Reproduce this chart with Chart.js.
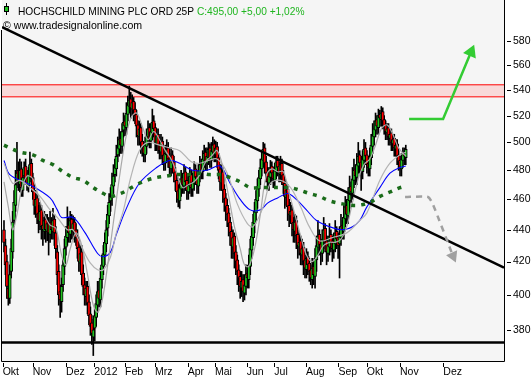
<!DOCTYPE html>
<html>
<head>
<meta charset="utf-8">
<script src="https://cdn.jsdelivr.net/npm/chart.js"></script>
<style>
  html, body { margin: 0; padding: 0; background: #fff; }
  #chart { display: block; }
</style>
</head>
<body>
<canvas id="chart" width="531" height="380"></canvas>
<script>
const title = 'HOCHSCHILD MINING PLC ORD 25P'
const source = '\u00a9 www.tradesignalonline.com'

// x axis runs on a trading-day index, month labels sit on the first day of each month
const monthLabels = ['Okt', 'Nov', 'Dez', '2012', 'Feb', 'Mrz', 'Apr', 'Mai', 'Jun', 'Jul', 'Aug', 'Sep', 'Okt', 'Nov', 'Dez']
const monthDays = [-0.9, 19.9, 43.1, 62.7, 84, 104.9, 127.6, 146.5, 168.5, 187.7, 209.7, 232.2, 251.9, 275, 305.1]
const dayMin = -1.39
const dayMax = 347.2
const priceTicks = [380, 400, 420, 440, 460, 480, 500, 520, 540, 560, 580]
const priceMin = 363.1
const priceMax = 615.9

// daily candles, Oct 2011 - early Nov 2012
const opens = [
  440, 430, 420, 404, 398, 414, 426, 446, 456, 472,
  480, 470, 481, 466, 476, 483, 475, 469, 476, 485,
  475, 466, 455, 461, 451, 445, 453, 443, 439, 447,
  439, 445, 437, 445, 439, 447, 438, 426, 414, 402,
  396, 406, 417, 429, 435, 443, 437, 447, 439, 445,
  440, 436, 429, 419, 426, 413, 406, 399, 405, 396,
  389, 384, 376, 381, 387, 394, 403, 397, 409, 417,
  424, 431, 441, 449, 459, 461, 469, 477, 481, 491,
  495, 503, 497, 509, 516, 511, 521, 527, 533, 525,
  531, 525, 521, 513, 504, 511, 501, 497, 491, 497,
  504, 511, 501, 507, 516, 511, 499, 506, 499, 493,
  501, 491, 485, 491, 496, 489, 481, 491, 486, 479,
  473, 466, 459, 467, 475, 469, 479, 473, 465, 469,
  477, 467, 471, 481, 476, 469, 477, 485, 479, 487,
  493, 485, 489, 496, 487, 493, 499, 491, 497, 489,
  481, 471, 479, 467, 461, 456, 451, 445, 439, 429,
  436, 426, 421, 415, 411, 404, 409, 401, 405, 413,
  409, 417, 427, 435, 444, 451, 459, 467, 474, 481,
  487, 496, 486, 479, 471, 475, 483, 479, 473, 479,
  487, 483, 477, 485, 477, 471, 461, 467, 456, 449,
  453, 445, 439, 446, 437, 429, 433, 424, 429, 421,
  415, 423, 419, 415, 409, 417, 411, 421, 429, 437,
  431, 425, 433, 441, 433, 425, 429, 437, 433, 427,
  431, 439, 435, 431, 435, 443, 439, 447, 456, 449,
  459, 469, 464, 473, 481, 475, 483, 491, 486, 479,
  487, 496, 491, 485, 481, 489, 497, 504, 509, 517,
  511, 521, 517, 523, 517, 513, 507, 511, 503, 507,
  499, 503, 495, 499, 491, 487, 481, 487, 493, 489
]
const highs = [
  446, 434, 424, 410, 418, 434, 452, 466, 480, 500,
  486, 488, 486, 480, 486, 488, 480, 482, 493, 488,
  478, 470, 466, 464, 456, 458, 456, 448, 452, 450,
  450, 448, 452, 448, 454, 450, 442, 430, 418, 406,
  410, 422, 434, 442, 455, 448, 452, 450, 449, 448,
  444, 440, 434, 430, 430, 418, 410, 408, 408, 400,
  393, 388, 386, 392, 400, 408, 408, 416, 424, 430,
  438, 446, 456, 464, 468, 478, 484, 488, 498, 504,
  510, 508, 514, 522, 520, 530, 535, 543, 538, 536,
  534, 530, 524, 516, 516, 514, 506, 500, 504, 510,
  516, 514, 514, 525, 520, 514, 510, 510, 504, 506,
  504, 496, 498, 502, 500, 492, 496, 494, 490, 482,
  476, 470, 474, 480, 478, 484, 482, 476, 476, 482,
  480, 478, 486, 484, 480, 484, 490, 488, 494, 498,
  496, 496, 500, 499, 500, 504, 502, 501, 500, 492,
  484, 484, 482, 470, 464, 460, 454, 448, 442, 440,
  438, 430, 424, 418, 414, 414, 412, 412, 418, 416,
  424, 434, 442, 450, 458, 466, 474, 480, 488, 494,
  500, 499, 490, 482, 482, 487, 486, 482, 485, 490,
  490, 486, 490, 488, 480, 474, 472, 470, 460, 458,
  456, 448, 450, 449, 440, 438, 436, 434, 432, 424,
  428, 426, 422, 418, 422, 420, 428, 436, 446, 440,
  434, 440, 448, 444, 436, 436, 444, 440, 436, 438,
  446, 442, 438, 442, 450, 446, 456, 462, 460, 468,
  476, 472, 482, 488, 484, 492, 500, 494, 490, 494,
  502, 500, 494, 488, 496, 506, 514, 516, 522, 520,
  525, 524, 527, 526, 520, 516, 514, 514, 510, 510,
  506, 506, 502, 502, 494, 490, 492, 496, 496, 498
]
const lows = [
  426, 412, 398, 394, 395, 410, 422, 442, 452, 468,
  466, 465, 462, 462, 472, 470, 466, 465, 472, 470,
  460, 450, 448, 444, 438, 440, 434, 430, 434, 432,
  433, 424, 432, 434, 434, 430, 422, 406, 394, 387,
  390, 402, 412, 424, 430, 432, 432, 434, 434, 432,
  430, 422, 414, 414, 406, 400, 394, 394, 389, 383,
  377, 372, 366, 374, 382, 390, 393, 393, 404, 412,
  418, 426, 436, 444, 452, 456, 464, 472, 476, 486,
  490, 492, 492, 504, 505, 506, 516, 522, 518, 520,
  516, 514, 504, 498, 498, 492, 490, 486, 486, 492,
  498, 496, 496, 502, 504, 494, 494, 492, 488, 488,
  484, 480, 480, 486, 482, 476, 476, 478, 472, 466,
  458, 455, 454, 462, 464, 464, 466, 460, 460, 464,
  462, 462, 466, 470, 464, 464, 472, 474, 474, 482,
  480, 480, 484, 482, 482, 488, 486, 486, 482, 474,
  466, 466, 458, 452, 446, 442, 436, 430, 422, 422,
  416, 412, 406, 402, 398, 399, 396, 397, 400, 404,
  404, 412, 422, 430, 438, 446, 454, 462, 470, 476,
  482, 478, 472, 466, 466, 470, 472, 468, 468, 474,
  476, 472, 472, 470, 464, 454, 456, 446, 442, 444,
  436, 432, 432, 428, 422, 424, 418, 418, 412, 410,
  410, 412, 408, 406, 404, 406, 404, 414, 424, 424,
  418, 420, 428, 426, 418, 420, 424, 426, 420, 422,
  426, 428, 422, 410, 430, 434, 434, 442, 444, 444,
  454, 458, 460, 468, 470, 470, 478, 478, 466, 474,
  482, 484, 478, 476, 476, 484, 492, 498, 504, 506,
  506, 512, 512, 510, 506, 502, 502, 498, 498, 494,
  494, 490, 490, 484, 480, 476, 476, 482, 484, 484
]
const closes = [
  432, 418, 405, 398, 412, 428, 445, 458, 470, 478,
  472, 480, 468, 475, 482, 474, 470, 478, 484, 474,
  465, 456, 460, 450, 446, 452, 442, 440, 446, 440,
  444, 438, 444, 440, 446, 438, 428, 412, 400, 397,
  405, 418, 428, 436, 442, 438, 446, 440, 444, 438,
  435, 428, 420, 425, 412, 405, 400, 404, 395, 388,
  382, 378, 380, 388, 395, 402, 398, 410, 418, 425,
  432, 440, 450, 458, 462, 470, 476, 482, 490, 496,
  502, 498, 508, 515, 512, 522, 528, 532, 526, 530,
  524, 520, 512, 505, 510, 500, 496, 492, 498, 505,
  510, 502, 508, 515, 510, 500, 505, 498, 494, 500,
  490, 486, 492, 495, 488, 482, 490, 485, 478, 472,
  465, 460, 468, 474, 470, 478, 472, 466, 470, 476,
  468, 472, 480, 475, 470, 478, 484, 480, 488, 492,
  486, 490, 495, 488, 494, 498, 492, 496, 488, 480,
  472, 478, 466, 460, 455, 450, 444, 438, 430, 435,
  425, 420, 414, 410, 405, 408, 402, 406, 412, 410,
  418, 428, 436, 445, 452, 460, 468, 475, 482, 488,
  495, 485, 478, 472, 476, 482, 478, 474, 480, 486,
  482, 478, 484, 476, 470, 462, 466, 455, 450, 452,
  444, 440, 445, 436, 430, 432, 425, 428, 420, 416,
  422, 418, 414, 410, 416, 412, 422, 430, 436, 430,
  426, 434, 440, 432, 426, 430, 436, 432, 428, 432,
  438, 434, 430, 436, 442, 440, 448, 455, 450, 460,
  468, 465, 474, 480, 476, 484, 490, 485, 480, 488,
  495, 490, 484, 482, 490, 498, 505, 510, 516, 512,
  520, 518, 522, 516, 512, 508, 510, 504, 506, 500,
  502, 496, 498, 490, 486, 482, 488, 492, 490, 495
]

// moving averages: day index + value
const fastDays = [0, 3, 6, 9, 12, 16, 20, 24, 28, 32, 36, 40, 43, 46, 50, 54, 58, 62, 65, 68, 72, 76, 80, 84, 88, 92, 96, 100, 104, 108, 112, 116, 120, 124, 128, 132, 136, 140, 144, 148, 152, 156, 160, 164, 167, 170, 174, 178, 182, 186, 190, 194, 198, 202, 206, 210, 214, 218, 222, 226, 230, 234, 238, 242, 246, 250, 254, 258, 262, 266, 270, 274, 279]
const fastAvg = [472, 455, 440, 450, 466, 476, 474, 462, 450, 443, 441, 424, 418, 428, 438, 430, 412, 394, 390, 396, 418, 445, 474, 500, 518, 522, 512, 502, 508, 502, 494, 488, 478, 468, 470, 472, 477, 486, 490, 494, 482, 462, 442, 428, 418, 417, 428, 450, 476, 481, 479, 479, 464, 450, 436, 424, 420, 424, 430, 432, 432, 434, 442, 458, 474, 484, 488, 498, 510, 513, 506, 496, 490]
const midDays = [0, 6, 11, 18, 25, 32, 37, 44, 48, 55, 60, 65, 69, 74, 78, 83, 88, 94, 100, 108, 115, 122, 130, 136, 142, 148, 155, 162, 169, 173, 180, 185, 192, 199, 206, 212, 219, 228, 238, 247, 252, 261, 268, 275, 279]
const midAvg = [485, 471, 473, 468, 462, 453, 448, 440, 440, 427, 419, 415, 415, 423, 438, 453, 475, 494, 500, 498, 496, 494, 486, 485, 487, 488, 478, 457, 444, 442, 455, 471, 473, 468, 455, 442, 433, 435, 438, 446, 451, 473, 485, 491, 493]
const blueDays = [0, 4, 18, 32, 37, 40, 48, 56, 65, 69, 74, 78, 85, 94, 106, 115, 122, 131, 141, 150, 157, 164, 171, 178, 183, 190, 197, 203, 210, 217, 226, 235, 242, 247, 252, 261, 268, 275, 279]
const blueAvg = [487, 477, 470, 461, 453, 448, 448, 438.5, 425, 423, 426, 437, 454, 471, 482, 487, 485, 480, 480, 483, 471, 460, 453, 453, 457.5, 461, 464, 460, 453, 446, 442, 440, 442, 446, 455, 468, 478, 482, 483]
const slowDays = [0, 4, 11, 20, 27, 34, 41, 48, 55, 62, 69, 74, 81, 85, 92, 99, 106, 113, 120, 129, 136, 143, 150, 157, 164, 171, 178, 185, 192, 199, 206, 212, 219, 226, 235, 245, 254, 261, 268, 275, 279]
const slowAvg = [498, 496, 493, 491, 487, 484, 479, 475, 473, 468, 464, 462, 464, 466, 470, 473, 475, 476, 477, 477, 478, 477, 477, 475, 472, 468, 468, 468, 468, 468, 466, 464, 462, 459, 457, 456, 458, 462, 465, 468, 469]

// drawn lines: resistance band, support, falling trend, two scenario arrows
const bandLow = 534.5
const bandHigh = 544
const support = 373
const trendDays = [dayMin, dayMax]
const trendVals = [592, 416.3]
const upArrowDays = [281.3, 304.9, 324.3]
const upArrowVals = [517.4, 517.4, 570.7]
const downArrowDays = [278.5, 294.4, 297.9, 311.8]
const downArrowVals = [461.6, 461.6, 456.5, 423.4]

const upColor = '#22c322'
const downColor = '#ff0000'

const days = closes.map((c, i) => i)
const pts = (xs, ys) => xs.map((x, i) => ({ x, y: ys[i] }))
const flat = v => pts([dayMin, dayMax], [v, v])

function lineSet (data, color, width, extra) {
  return Object.assign({
    type: 'line',
    data,
    borderColor: color,
    borderWidth: width,
    pointRadius: 0,
    fill: false,
    tension: 0.35,
    order: 5
  }, extra || {})
}

// no extra room for end labels, the plot has to fill the frame exactly
function noPadding (s) {
  s.paddingTop = 0
  s.paddingBottom = 0
  s.paddingLeft = 0
  s.paddingRight = 0
}

const frame = {
  id: 'frame',
  beforeDraw (chart) {
    const { ctx, chartArea: a } = chart
    ctx.save()
    ctx.fillStyle = '#fff'
    ctx.fillRect(0, 0, chart.width, chart.height)
    ctx.fillStyle = '#f5f5f5'
    ctx.fillRect(a.left, a.top, a.right - a.left, a.bottom - a.top)
    ctx.restore()
  },
  afterDraw (chart) {
    const { ctx, chartArea: a, scales } = chart
    ctx.save()
    ctx.strokeStyle = '#000'
    ctx.lineWidth = 1
    ctx.beginPath()
    ctx.moveTo(a.left - 0.5, a.top + 30)
    ctx.lineTo(a.left - 0.5, a.bottom + 0.5)
    ctx.lineTo(a.right + 0.5, a.bottom + 0.5)
    ctx.lineTo(a.right + 0.5, a.top)
    // small tick marks, detached from the frame
    monthDays.forEach(d => {
      const px = Math.round(scales.x.getPixelForValue(d)) + 0.5
      ctx.moveTo(px, a.bottom + 2)
      ctx.lineTo(px, a.bottom + 6)
    })
    priceTicks.forEach(v => {
      const py = Math.round(scales.y.getPixelForValue(v)) + 0.5
      ctx.moveTo(a.right + 3, py)
      ctx.lineTo(a.right + 7, py)
    })
    ctx.stroke()

    // header: instrument, last close and change
    const last = closes[closes.length - 1]
    const prev = closes[closes.length - 2]
    const fmt = v => v.toFixed(2).replace('.', ',')
    const change = 'C:' + fmt(last) + ' +' + fmt(last - prev) + ' +' + fmt((last - prev) / prev * 100) + '%'
    ctx.fillStyle = '#000'
    ctx.fillRect(6, 3, 1, 12)
    ctx.fillStyle = upColor
    ctx.fillRect(4, 6, 5, 6)
    ctx.strokeRect(4.5, 6.5, 4, 5)
    ctx.font = "10.2px 'Liberation Sans', Arial, sans-serif"
    ctx.textBaseline = 'alphabetic'
    ctx.fillStyle = '#000'
    ctx.fillText(title, 18, 15)
    const w = ctx.measureText(title + ' ').width
    ctx.fillStyle = '#1fb51f'
    ctx.fillText(change, 18 + w, 15)
    ctx.fillStyle = '#000'
    ctx.font = "10.6px 'Liberation Sans', Arial, sans-serif"
    ctx.fillText(source, 3, 29)
    ctx.restore()
  }
}

const tickFont = { family: "'Liberation Sans', Arial, sans-serif", size: 10.5 }

new Chart(document.getElementById('chart'), {
  type: 'bar',
  data: {
    datasets: [
      lineSet(flat(bandHigh), '#ff0000', 1, { tension: 0, order: 20 }),
      lineSet(flat(bandLow), '#ff0000', 1, { tension: 0, order: 20, fill: '-1', backgroundColor: '#f8d9d9' }),
      lineSet(flat(support), '#000', 2.5, { tension: 0, order: 3 }),
      {
        type: 'bar',
        data: days.map(i => ({ x: i, y: [lows[i], highs[i]] })),
        backgroundColor: '#000',
        barThickness: 1,
        grouped: false,
        order: 11
      },
      {
        type: 'bar',
        data: days.map(i => ({ x: i, y: [opens[i], closes[i]] })),
        backgroundColor: days.map(i => closes[i] >= opens[i] ? upColor : downColor),
        borderColor: '#000',
        borderWidth: 1,
        borderSkipped: false,
        barThickness: 3,
        grouped: false,
        order: 10
      },
      lineSet(pts(fastDays, fastAvg), '#a9a9a9', 1.2),
      lineSet(pts(midDays, midAvg), '#b4b4b4', 1.2),
      lineSet(pts(blueDays, blueAvg), '#0000ff', 1.1),
      lineSet(pts(slowDays, slowAvg), '#1a6b1a', 3.5, { borderDash: [4, 6], order: 4 }),
      lineSet(pts(trendDays, trendVals), '#000', 2.5, { tension: 0, order: 2 }),
      lineSet(pts(upArrowDays, upArrowVals), '#33cc33', 2.5, {
        tension: 0,
        order: 1,
        pointRadius: [0, 0, 8],
        pointStyle: 'triangle',
        pointRotation: 23,
        pointBackgroundColor: '#33cc33',
        pointBorderWidth: 0
      }),
      lineSet(pts(downArrowDays, downArrowVals), '#a0a0a0', 2.5, {
        tension: 0.2,
        order: 1,
        borderDash: [6, 5],
        pointRadius: [0, 0, 0, 7],
        pointStyle: 'triangle',
        pointRotation: 156,
        pointBackgroundColor: '#a0a0a0',
        pointBorderWidth: 0
      })
    ]
  },
  options: {
    responsive: false,
    animation: false,
    devicePixelRatio: 1,
    layout: { autoPadding: false, padding: { left: 2, top: 0, right: 0, bottom: 0 } },
    plugins: {
      legend: { display: false },
      tooltip: { enabled: false }
    },
    scales: {
      x: {
        type: 'linear',
        min: dayMin,
        max: dayMax,
        bounds: 'data',
        offset: false,
        grid: { display: false, drawTicks: false, offset: false },
        border: { display: false },
        afterBuildTicks: s => { s.ticks = monthDays.map(v => ({ value: v })) },
        afterFit: s => { s.height = 19; noPadding(s) },
        ticks: {
          autoSkip: false,
          maxRotation: 0,
          minRotation: 0,
          align: 'start',
          padding: 5,
          color: '#000',
          font: tickFont,
          callback: (v, i) => monthLabels[i]
        }
      },
      y: {
        type: 'logarithmic',
        position: 'right',
        min: priceMin,
        max: priceMax,
        bounds: 'data',
        grid: { display: false, drawTicks: false },
        border: { display: false },
        afterBuildTicks: s => { s.ticks = priceTicks.map(v => ({ value: v })) },
        afterFit: s => { s.width = 27; noPadding(s) },
        ticks: {
          padding: 9,
          color: '#000',
          font: tickFont,
          callback: v => String(v)
        }
      }
    }
  },
  plugins: [frame]
})
</script>
</body>
</html>
